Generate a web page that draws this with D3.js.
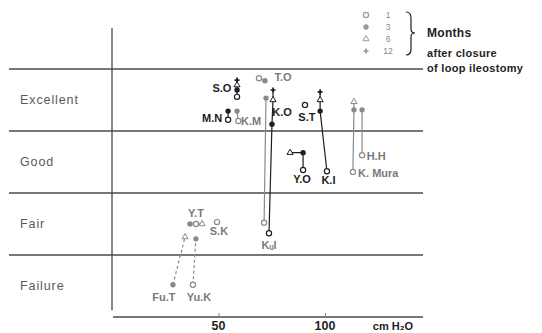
<!DOCTYPE html>
<html><head><meta charset="utf-8">
<script src="https://cdn.jsdelivr.net/npm/d3@7/dist/d3.min.js"></script>
<style>body{margin:0;background:#fff}svg{display:block;font-family:"Liberation Sans",Arial,sans-serif}</style>
</head><body><svg id="c" width="542" height="333"></svg>
<script>
// ---- data ----
const categories = ["Failure", "Fair", "Good", "Excellent"];
const xTicks = [50, 100];
const xUnit = "cm H₂O";
const legendMonths = [1, 3, 6, 12];
const legendText = ["Months", "after closure", "of loop ileostomy"];
// each patient: [month, pressure (cmH2O), grade position]
const SO = [[1, 58.7, 3.55], [3, 58.7, 3.66], [6, 58.7, 3.74], [12, 58.7, 3.82]];
const MN = [[1, 54.5, 3.18], [3, 54.5, 3.32]];
const KM = [[1, 59.3, 3.16], [3, 58.7, 3.32]];
const TO = [[1, 69.0, 3.85], [3, 71.8, 3.81]];
const KO = [[1, 73.7, 1.35], [3, 75.1, 3.11], [6, 75.6, 3.50], [12, 75.6, 3.66]];
const KuI = [[1, 71.4, 1.52], [3, 72.3, 3.53]];
const ST = [[1, 90.6, 3.42]];
const KI = [[1, 100.9, 2.35], [3, 97.7, 3.32], [6, 97.7, 3.50], [12, 97.7, 3.63]];
const YO = [[1, 89.7, 2.37], [3, 89.7, 2.65], [6, 83.6, 2.65]];
const KMura = [[1, 113.1, 2.34], [3, 113.6, 3.34], [6, 113.6, 3.47]];
const HH = [[1, 117.4, 2.61], [3, 117.4, 3.34]];
const YT = [[3, 36.6, 1.50], [1, 39.4, 1.50], [6, 42.3, 1.50]];
const SK = [[1, 49.3, 1.53]];
const FuT = [[3, 28.6, 0.52], [6, 34.3, 1.29]];
const YuK = [[1, 38.0, 0.52], [3, 39.4, 1.26]];
const patients = [
  {name: "S.O", pts: SO, label: [51.6, 3.69], dark: true},
  {name: "M.N", pts: MN, label: [47.0, 3.21], dark: true},
  {name: "K.M", pts: KM, label: [65.3, 3.16], dark: false},
  {name: "T.O", pts: TO, label: [80.3, 3.87], dark: false},
  {name: "K.O", pts: KO, label: [79.8, 3.31], dark: true},
  {name: "Kᵤl", pts: KuI, label: [73.7, 1.16], dark: false},
  {name: "S.T", pts: ST, label: [91.5, 3.23], dark: true},
  {name: "K.I", pts: KI, label: [101.6, 2.21], dark: true},
  {name: "Y.O", pts: YO, label: [89.2, 2.23], dark: true},
  {name: "K. Mura", pts: KMura, label: [125.0, 2.32], dark: false},
  {name: "H.H", pts: HH, label: [124.0, 2.60], dark: false},
  {name: "Y.T", pts: YT, label: [39.4, 1.68], dark: false},
  {name: "S.K", pts: SK, label: [50.2, 1.39], dark: false},
  {name: "Fu.T", pts: FuT, label: [24.4, 0.32], dark: false, dashed: true},
  {name: "Yu.K", pts: YuK, label: [40.8, 0.32], dark: false, dashed: true}
];

// ---- chart ----
const svg = d3.select("#c");
const x = d3.scaleLinear().domain([0, 146]).range([112, 423]);
const y = d3.scaleLinear().domain([0, 4.66]).range([317, 28]);
const gridCol = "#4a4a4a", dark = "#1e1e1e", gray = "#8a8a8a";

// band boundaries
svg.append("g").selectAll("line").data(d3.range(1, categories.length + 1)).join("line")
  .attr("x1", 9).attr("x2", x(146)).attr("y1", d => y(d)).attr("y2", d => y(d))
  .attr("stroke", gridCol).attr("stroke-width", 1.4);
// vertical axis
svg.append("line").attr("x1", x(0)).attr("x2", x(0)).attr("y1", y(4.66)).attr("y2", y(0.11))
  .attr("stroke", gridCol).attr("stroke-width", 1.3);
// x axis
const xa = svg.append("g").attr("transform", `translate(0,${y(0)})`)
  .call(d3.axisTop(x).tickValues(xTicks).tickSize(4).tickFormat(""));
xa.select(".domain").attr("stroke", gridCol).attr("stroke-width", 1.3).attr("d", `M${x(0.5)},0H${x(146)}`);
xa.selectAll(".tick line").attr("stroke", "#888");
svg.append("g").selectAll("text").data(xTicks).join("text")
  .attr("x", d => x(d)).attr("y", 330).attr("text-anchor", "middle")
  .attr("font-size", 12.5).attr("font-weight", "bold").attr("fill", dark).text(d => d);
svg.append("text").attr("x", 393).attr("y", 330).attr("text-anchor", "middle")
  .attr("font-size", 11).attr("font-weight", "bold").attr("fill", dark).text(xUnit);

// category labels
svg.append("g").selectAll("text").data(categories).join("text")
  .attr("x", 20).attr("y", (d, i) => y(i + 0.5)).attr("dy", "0.35em")
  .attr("font-size", 12.5).attr("letter-spacing", 0.9).attr("fill", "#5a5a5a").text(d => d);

// symbols
function drawSym(g, m, cx, cy, col) {
  if (m === 1) g.append("circle").attr("cx", cx).attr("cy", cy).attr("r", 2.6)
    .attr("fill", "#fff").attr("stroke", col).attr("stroke-width", 1.2);
  else if (m === 3) g.append("circle").attr("cx", cx).attr("cy", cy).attr("r", 2.7).attr("fill", col);
  else if (m === 6) g.append("path").attr("transform", `translate(${cx},${cy})`)
    .attr("d", d3.symbol(d3.symbolTriangle, 16)()).attr("fill", "#fff").attr("stroke", col).attr("stroke-width", 1);
  else g.append("path").attr("transform", `translate(${cx},${cy})`)
    .attr("d", d3.symbol(d3.symbolCross, 14)()).attr("fill", col);
}

const pg = svg.append("g");
const line = d3.line().x(d => x(d[1])).y(d => y(d[2]));
patients.forEach(p => {
  const col = p.dark ? dark : gray;
  const sorted = p.pts.slice().sort((a, b) => a[0] - b[0]);
  if (sorted.length > 1) pg.append("path").attr("d", line(sorted)).attr("fill", "none")
    .attr("stroke", col).attr("stroke-width", 1.2).attr("stroke-dasharray", p.dashed ? "3,2.5" : null);
});
patients.forEach(p => {
  const col = p.dark ? dark : gray;
  p.pts.forEach(d => drawSym(pg, d[0], x(d[1]), y(d[2]), col));
  pg.append("text").attr("x", x(p.label[0])).attr("y", y(p.label[1])).attr("dy", "0.35em")
    .attr("text-anchor", "middle").attr("font-size", 11).attr("font-weight", "bold")
    .attr("fill", p.dark ? dark : "#7a7a7a").text(p.name);
});

// legend
const lg = svg.append("g");
legendMonths.forEach((m, i) => {
  const ly = 15 + i * 12;
  drawSym(lg, m, 366, ly, "#999");
  lg.append("text").attr("x", 388).attr("y", ly).attr("dy", "0.35em").attr("text-anchor", "middle")
    .attr("font-size", 8.5).attr("fill", "#888").text(m);
});
lg.append("path").attr("d", "M406,12 Q411,12 411,18 L411,29 Q411,33 415,33 Q411,33 411,37 L411,49 Q411,55 406,55")
  .attr("fill", "none").attr("stroke", dark).attr("stroke-width", 1.2);
legendText.forEach((t, i) => {
  lg.append("text").attr("x", 427).attr("y", [33, 53, 68][i]).attr("dy", "0.35em")
    .attr("font-size", i === 0 ? 12 : 11).attr("font-weight", "bold").attr("letter-spacing", 0.3)
    .attr("fill", dark).text(t);
});
</script></body></html>
